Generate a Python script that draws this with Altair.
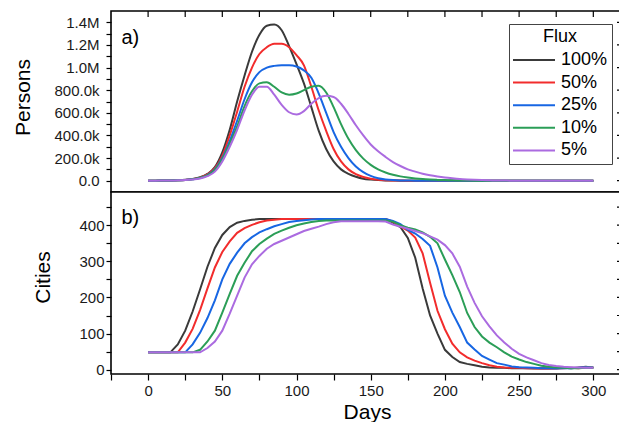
import altair as alt
import pandas as pd

F = "Liberation Sans"
flux = ["100%", "50%", "25%", "10%", "5%"]
colors = ["#3a3a3a", "#f22c2c", "#1766e3", "#2b9e57", "#ab6be0"]
days = list(range(0, 301, 5))

# Persons (millions), days 0..300 every 5
p100 = [0, 0, 0.001, 0.002, 0.004, 0.008, 0.016, 0.03, 0.06, 0.12,
        0.25, 0.45, 0.70, 0.93, 1.14, 1.29, 1.37, 1.38, 1.33, 1.19,
        1.03, 0.86, 0.65, 0.44, 0.28, 0.17, 0.10, 0.06, 0.035, 0.018,
        0.01, 0.005, 0.002, 0.001, 0, 0, 0, 0, 0, 0,
        0, 0, 0, 0, 0, 0, 0, 0, 0, 0,
        0, 0, 0, 0, 0, 0, 0, 0, 0, 0,
        0]
p50 = [0, 0, 0.001, 0.002, 0.004, 0.007, 0.014, 0.027, 0.055, 0.11,
       0.22, 0.40, 0.61, 0.83, 1.00, 1.12, 1.18, 1.21, 1.21, 1.18,
       1.11, 1.02, 0.83, 0.62, 0.44, 0.28, 0.17, 0.10, 0.058, 0.033,
       0.018, 0.009, 0.004, 0.002, 0.001, 0, 0, 0, 0, 0,
       0, 0, 0, 0, 0, 0, 0, 0, 0, 0,
       0, 0, 0, 0, 0, 0, 0, 0, 0, 0,
       0]
p25 = [0, 0, 0.001, 0.002, 0.004, 0.007, 0.013, 0.025, 0.05, 0.10,
       0.20, 0.35, 0.53, 0.72, 0.87, 0.96, 1.00, 1.015, 1.02, 1.02,
       1.01, 0.975, 0.91, 0.77, 0.60, 0.43, 0.30, 0.20, 0.125, 0.075,
       0.042, 0.022, 0.011, 0.005, 0.002, 0.001, 0, 0, 0, 0,
       0, 0, 0, 0, 0, 0, 0, 0, 0, 0,
       0, 0, 0, 0, 0, 0, 0, 0, 0, 0,
       0]
p10 = [0, 0, 0.001, 0.002, 0.004, 0.006, 0.012, 0.023, 0.047, 0.095,
       0.19, 0.33, 0.48, 0.66, 0.79, 0.86, 0.87, 0.83, 0.78, 0.76,
       0.77, 0.80, 0.83, 0.84, 0.78, 0.65, 0.50, 0.37, 0.27, 0.195,
       0.14, 0.10, 0.072, 0.052, 0.038, 0.028, 0.02, 0.014, 0.01, 0.007,
       0.005, 0.003, 0.002, 0.001, 0, 0, 0, 0, 0, 0,
       0, 0, 0, 0, 0, 0, 0, 0, 0, 0,
       0]
p5 = [0, 0, 0.001, 0.002, 0.003, 0.005, 0.010, 0.02, 0.04, 0.08,
      0.17, 0.30, 0.45, 0.62, 0.76, 0.83, 0.83, 0.76, 0.67, 0.605,
      0.585, 0.615, 0.68, 0.73, 0.75, 0.74, 0.68, 0.59, 0.49, 0.40,
      0.32, 0.26, 0.21, 0.165, 0.13, 0.10, 0.08, 0.062, 0.048, 0.037,
      0.028, 0.021, 0.015, 0.011, 0.008, 0.005, 0.003, 0.002, 0.001, 0,
      0, 0, 0, 0, 0, 0, 0, 0, 0, 0,
      0]

# Cities, days 0..300 every 5
c100 = [48, 48, 48, 48, 70, 108, 161, 222, 285, 337,
        373, 395, 407, 412, 415, 417, 417, 417, 417, 417,
        417, 417, 417, 417, 417, 417, 417, 417, 417, 417,
        417, 417, 417, 407, 395, 365, 310, 225, 150, 100,
        55, 35, 21, 16, 12, 8, 6, 5, 5, 4,
        4, 4, 3, 4, 3, 4, 5, 4, 6, 8,
        5]
c50 = [48, 48, 48, 48, 48, 75, 113, 165, 225, 283,
       326, 355, 379, 392, 401, 408, 413, 415, 417, 417,
       417, 417, 417, 417, 417, 417, 417, 417, 417, 417,
       417, 417, 417, 410, 397, 385, 366, 322, 241, 163,
       112, 72, 48, 34, 25, 18, 12, 8, 6, 5,
       5, 4, 4, 3, 4, 3, 4, 5, 4, 6,
       6]
c25 = [48, 48, 48, 48, 48, 48, 70, 102, 143, 192,
       250, 293, 324, 350, 367, 380, 389, 397, 403, 409,
       412, 414, 416, 417, 417, 417, 417, 417, 417, 417,
       417, 417, 417, 412, 403, 387, 377, 362, 343, 283,
       205, 158, 118, 75, 56, 38, 28, 18, 14, 9,
       7, 6, 5, 4, 4, 3, 4, 4, 5, 7,
       6]
c10 = [48, 48, 48, 48, 48, 48, 48, 55, 78, 108,
       158, 210, 260, 296, 328, 348, 363, 376, 385, 393,
       400, 405, 409, 412, 413, 413, 413, 413, 413, 413,
       413, 413, 413, 410, 400, 393, 388, 380, 368, 350,
       305, 262, 215, 157, 118, 92, 75, 62, 48, 36,
       28, 21, 16, 11, 8, 6, 5, 4, 4, 5,
       5]
c5 = [48, 48, 48, 48, 48, 48, 48, 48, 60, 78,
      108, 155, 205, 255, 292, 315, 335, 348, 357, 366,
      375, 384, 390, 396, 403, 408, 411, 411, 411, 411,
      411, 411, 410, 402, 396, 390, 384, 378, 369, 360,
      345, 322, 285, 230, 185, 148, 120, 95, 75, 58,
      44, 34, 26, 18, 13, 10, 8, 7, 6, 5,
      5]

persons = [p100, p50, p25, p10, p5]
cities = [c100, c50, c25, c10, c5]

x_ticks = [-25, 0, 25, 50, 75, 100, 125, 150, 175, 200, 225, 250, 275, 300]
persons_ticks = [0, 100000, 200000, 300000, 400000, 500000, 600000, 700000,
                 800000, 900000, 1000000, 1100000, 1200000, 1300000, 1400000]
persons_major = [0, 200000, 400000, 600000, 800000, 1000000, 1200000, 1400000]
cities_ticks = [0, 50, 100, 150, 200, 250, 300, 350, 400, 450]

rows_p, rows_c = [], []
for f, ps, cs in zip(flux, persons, cities):
    for d, v in zip(days, ps):
        rows_p.append({"day": d, "value": v * 1e6, "flux": f})
    for d, v in zip(days, cs):
        rows_c.append({"day": d, "value": v, "flux": f})
dfp = pd.DataFrame(rows_p)
dfc = pd.DataFrame(rows_c)

W = 512
H1 = 181
H2 = 182

x_scale = alt.Scale(domain=[-25, 320], nice=False, zero=False)
yp_scale = alt.Scale(domain=[-100000, 1500000], nice=False, zero=False)
yc_scale = alt.Scale(domain=[-12, 492], nice=False, zero=False)
color_scale = alt.Scale(domain=flux, range=colors)

tick_style = dict(tickColor="black", tickWidth=1.2, domain=False, grid=False,
                  labelFont=F, labelFontSize=15, labelColor="#1a1a1a",
                  titleFont=F, titleFontSize=21, titleFontWeight="normal",
                  titleColor="black")

top_x_axis = alt.Axis(values=x_ticks, labels=False, tickSize=6, title=None,
                      tickColor="black", tickWidth=1.2, domain=False, grid=False)
top_y_axis = alt.Axis(values=persons_ticks, tickSize=5, labelPadding=7,
                      labelExpr="datum.value % 200000 != 0 ? '' : (datum.value == 0 ? '0.0' : (datum.value < 1000000 ? format(datum.value/1000, '.1f') + 'k' : format(datum.value/1000000, '.1f') + 'M'))",
                      title="Persons", titleX=-82, titleY=86,
                      titleBaseline="alphabetic", titleAlign="center", **tick_style)
bot_x_axis = alt.Axis(values=x_ticks, tickSize=6, labelPadding=3,
                      labelExpr="datum.value >= 0 && datum.value % 50 == 0 ? datum.label : ''",
                      title="Days", titlePadding=3, **tick_style)
bot_y_axis = alt.Axis(values=cities_ticks, tickSize=5, labelPadding=2,
                      labelExpr="datum.value % 100 == 0 ? datum.label : ''",
                      title="Cities", titleX=-62, titleY=85,
                      titleBaseline="alphabetic", titleAlign="center", **tick_style)

legend = alt.Legend(
    title="Flux", orient="none", legendX=398, legendY=13, direction="vertical",
    symbolType="M-3,0H3", symbolSize=196, symbolStrokeWidth=2,
    symbolOffset=12, labelOffset=18,
    titleAnchor="middle", titleFontSize=18, titleFontWeight="normal", titleFont=F,
    titleColor="black",
    labelFontSize=18, labelFont=F, labelColor="black",
    padding=4, rowPadding=4.6, titlePadding=5,
    strokeColor="#444444", fillColor="white", cornerRadius=0,
)


def series_layers(df, yscale, xaxis, yaxis, interp, leg):
    layers = []
    for i, f in enumerate(flux):
        layers.append(
            alt.Chart(df).transform_filter(alt.datum.flux == f)
            .mark_line(strokeWidth=2, interpolate=interp, clip=True)
            .encode(
                x=alt.X("day:Q", scale=x_scale, axis=xaxis),
                y=alt.Y("value:Q", scale=yscale, axis=yaxis),
                color=alt.Color("flux:N", scale=color_scale, legend=leg),
            )
        )
    return layers


# inward mirror ticks
top_tick_df = pd.DataFrame({"day": x_ticks[1:]})
rt_p_df = pd.DataFrame({"value": persons_major})
rt_c_df = pd.DataFrame({"value": cities_ticks})

top_inward = alt.Chart(top_tick_df).mark_rule(color="black", strokeWidth=1.2).encode(
    x=alt.X("day:Q", scale=x_scale, axis=top_x_axis), y=alt.value(0), y2=alt.value(6))
right_p = alt.Chart(rt_p_df).mark_rule(color="black", strokeWidth=1.2).encode(
    y=alt.Y("value:Q", scale=yp_scale, axis=top_y_axis), x=alt.value(W - 6), x2=alt.value(W))
right_c = alt.Chart(rt_c_df).mark_rule(color="black", strokeWidth=1.2).encode(
    y=alt.Y("value:Q", scale=yc_scale, axis=bot_y_axis), x=alt.value(W - 6), x2=alt.value(W))

lab_a = alt.Chart(pd.DataFrame({"day": [-18], "value": [1.26e6], "t": ["a)"]})).mark_text(
    align="left", baseline="middle", fontSize=20, font=F, color="black").encode(
    x=alt.X("day:Q", scale=x_scale, axis=top_x_axis),
    y=alt.Y("value:Q", scale=yp_scale, axis=top_y_axis), text="t:N")
lab_b = alt.Chart(pd.DataFrame({"day": [-18], "value": [420], "t": ["b)"]})).mark_text(
    align="left", baseline="middle", fontSize=20, font=F, color="black").encode(
    x=alt.X("day:Q", scale=x_scale, axis=bot_x_axis),
    y=alt.Y("value:Q", scale=yc_scale, axis=bot_y_axis), text="t:N")

top = alt.layer(*series_layers(dfp, yp_scale, top_x_axis, top_y_axis, "monotone", legend),
                top_inward, right_p, lab_a).properties(width=W, height=H1)
bottom = alt.layer(*series_layers(dfc, yc_scale, bot_x_axis, bot_y_axis, "linear", None),
                   right_c, lab_b).properties(width=W, height=H2)

chart = alt.vconcat(top, bottom, spacing=0, bounds="flush").resolve_scale(
    color="independent").properties(
    padding={"left": 3, "top": 1, "right": -6, "bottom": -1},
    background="white",
).configure_view(stroke="black", strokeWidth=1.6, fill="white")

chart.save("out.html", embed_options={"renderer": "svg", "actions": False})
